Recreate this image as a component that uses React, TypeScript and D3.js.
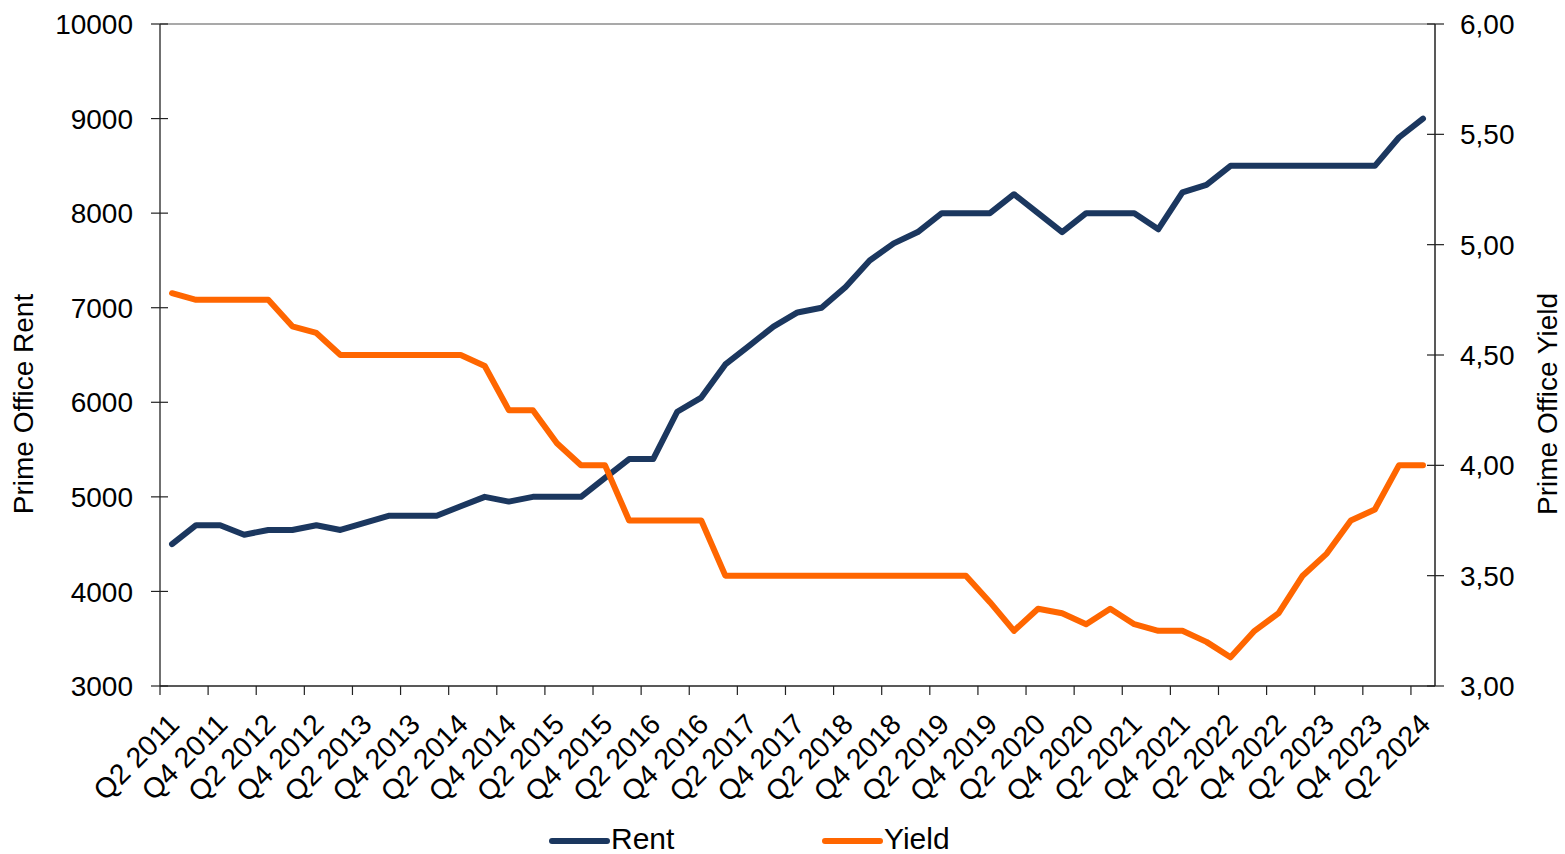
import React from 'react';
import * as d3 from 'd3';

// quarterly prime office market data
const quarters = [
  'Q2 2011', 'Q3 2011', 'Q4 2011',
  'Q1 2012', 'Q2 2012', 'Q3 2012', 'Q4 2012',
  'Q1 2013', 'Q2 2013', 'Q3 2013', 'Q4 2013',
  'Q1 2014', 'Q2 2014', 'Q3 2014', 'Q4 2014',
  'Q1 2015', 'Q2 2015', 'Q3 2015', 'Q4 2015',
  'Q1 2016', 'Q2 2016', 'Q3 2016', 'Q4 2016',
  'Q1 2017', 'Q2 2017', 'Q3 2017', 'Q4 2017',
  'Q1 2018', 'Q2 2018', 'Q3 2018', 'Q4 2018',
  'Q1 2019', 'Q2 2019', 'Q3 2019', 'Q4 2019',
  'Q1 2020', 'Q2 2020', 'Q3 2020', 'Q4 2020',
  'Q1 2021', 'Q2 2021', 'Q3 2021', 'Q4 2021',
  'Q1 2022', 'Q2 2022', 'Q3 2022', 'Q4 2022',
  'Q1 2023', 'Q2 2023', 'Q3 2023', 'Q4 2023',
  'Q1 2024', 'Q2 2024',
];

const rent = [
  4500, 4700, 4700, 4600, 4650, 4650, 4700, 4650, 4725, 4800,
  4800, 4800, 4900, 5000, 4950, 5000, 5000, 5000, 5200, 5400,
  5400, 5900, 6050, 6400, 6600, 6800, 6950, 7000, 7220, 7500,
  7680, 7800, 8000, 8000, 8000, 8200, 8000, 7800, 8000, 8000,
  8000, 7830, 8220, 8300, 8500, 8500, 8500, 8500, 8500, 8500,
  8500, 8800, 9000,
];

const yieldPct = [
  4.78, 4.75, 4.75, 4.75, 4.75, 4.63, 4.6, 4.5, 4.5, 4.5,
  4.5, 4.5, 4.5, 4.45, 4.25, 4.25, 4.1, 4.0, 4.0, 3.75,
  3.75, 3.75, 3.75, 3.5, 3.5, 3.5, 3.5, 3.5, 3.5, 3.5,
  3.5, 3.5, 3.5, 3.5, 3.38, 3.25, 3.35, 3.33, 3.28, 3.35,
  3.28, 3.25, 3.25, 3.2, 3.13, 3.25, 3.33, 3.5, 3.6, 3.75,
  3.8, 4.0, 4.0,
];

const rentTicks = [3000, 4000, 5000, 6000, 7000, 8000, 9000, 10000];
const yieldTicks = [3, 3.5, 4, 4.5, 5, 5.5, 6];

const W = 1565;
const H = 854;
const left = 160, right = 1435, top = 24, bottom = 686;
const font = '"Liberation Sans", Arial, sans-serif';
const NAVY = '#1b375f';
const ORANGE = '#ff6600';

export default function App() {
  const x = d3.scaleBand<string>().domain(quarters).range([left, right]).padding(0);
  const cx = (q: string) => (x(q) as number) + x.bandwidth() / 2;
  const yL = d3.scaleLinear().domain([3000, 10000]).range([bottom, top]);
  const yR = d3.scaleLinear().domain([3, 6]).range([bottom, top]);

  const rentLine = d3.line<number>()
    .x((_, i) => cx(quarters[i]))
    .y(d => yL(d));
  const yieldLine = d3.line<number>()
    .x((_, i) => cx(quarters[i]))
    .y(d => yR(d));

  const labelled = quarters.filter((_, i) => i % 2 === 0);
  const fmt = (v: number) => v.toFixed(2).replace('.', ',');

  return (
    <svg width={W} height={H} style={{ position: 'absolute', left: 0, top: 0 }} fontFamily={font}>
      <rect width={W} height={H} fill="#fff" />

      {/* frame */}
      <line x1={left} x2={right} y1={top} y2={top} stroke="#8c8c8c" strokeWidth={1.5} />
      <line x1={left} x2={left} y1={top} y2={bottom} stroke="#404040" strokeWidth={1.5} />
      <line x1={right} x2={right} y1={top} y2={bottom} stroke="#222" strokeWidth={1.5} />
      <line x1={left} x2={right} y1={bottom} y2={bottom} stroke="#222" strokeWidth={1.5} />

      {/* left axis */}
      {rentTicks.map(t => (
        <g key={'l' + t}>
          <line x1={left - 9} x2={left + 8} y1={yL(t)} y2={yL(t)} stroke="#222" strokeWidth={1.2} />
          <text x={133} y={yL(t)} dy="0.36em" textAnchor="end" fontSize={28} fill="#000">{t}</text>
        </g>
      ))}
      <text transform={`translate(33,404) rotate(-90)`} textAnchor="middle" fontSize={28} fill="#000">Prime Office Rent</text>

      {/* right axis */}
      {yieldTicks.map(t => (
        <g key={'r' + t}>
          <line x1={right - 8} x2={right + 9} y1={yR(t)} y2={yR(t)} stroke="#222" strokeWidth={1.2} />
          <text x={1460} y={yR(t)} dy="0.36em" textAnchor="start" fontSize={28} fill="#000">{fmt(t)}</text>
        </g>
      ))}
      <text transform={`translate(1557,404) rotate(-90)`} textAnchor="middle" fontSize={28} fill="#000">Prime Office Yield</text>

      {/* x axis */}
      {labelled.map(q => (
        <g key={q}>
          <line x1={x(q)} x2={x(q)} y1={bottom} y2={bottom + 9} stroke="#222" strokeWidth={1.2} />
          <text transform={`translate(${cx(q) + 2},${bottom + 33}) rotate(-45)`} textAnchor="end" dy="0.35em" fontSize={28.5} fill="#000">{q}</text>
        </g>
      ))}

      {/* series */}
      <path d={rentLine(rent) || ''} fill="none" stroke={NAVY} strokeWidth={6} strokeLinejoin="round" strokeLinecap="round" />
      <path d={yieldLine(yieldPct) || ''} fill="none" stroke={ORANGE} strokeWidth={6} strokeLinejoin="round" strokeLinecap="round" />

      {/* legend */}
      <line x1={552} x2={607} y1={841} y2={841} stroke={NAVY} strokeWidth={6} strokeLinecap="round" />
      <text x={611} y={849} fontSize={30} fill="#000">Rent</text>
      <line x1={825} x2={880} y1={841} y2={841} stroke={ORANGE} strokeWidth={6} strokeLinecap="round" />
      <text x={884} y={849} fontSize={30} fill="#000">Yield</text>
    </svg>
  );
}
